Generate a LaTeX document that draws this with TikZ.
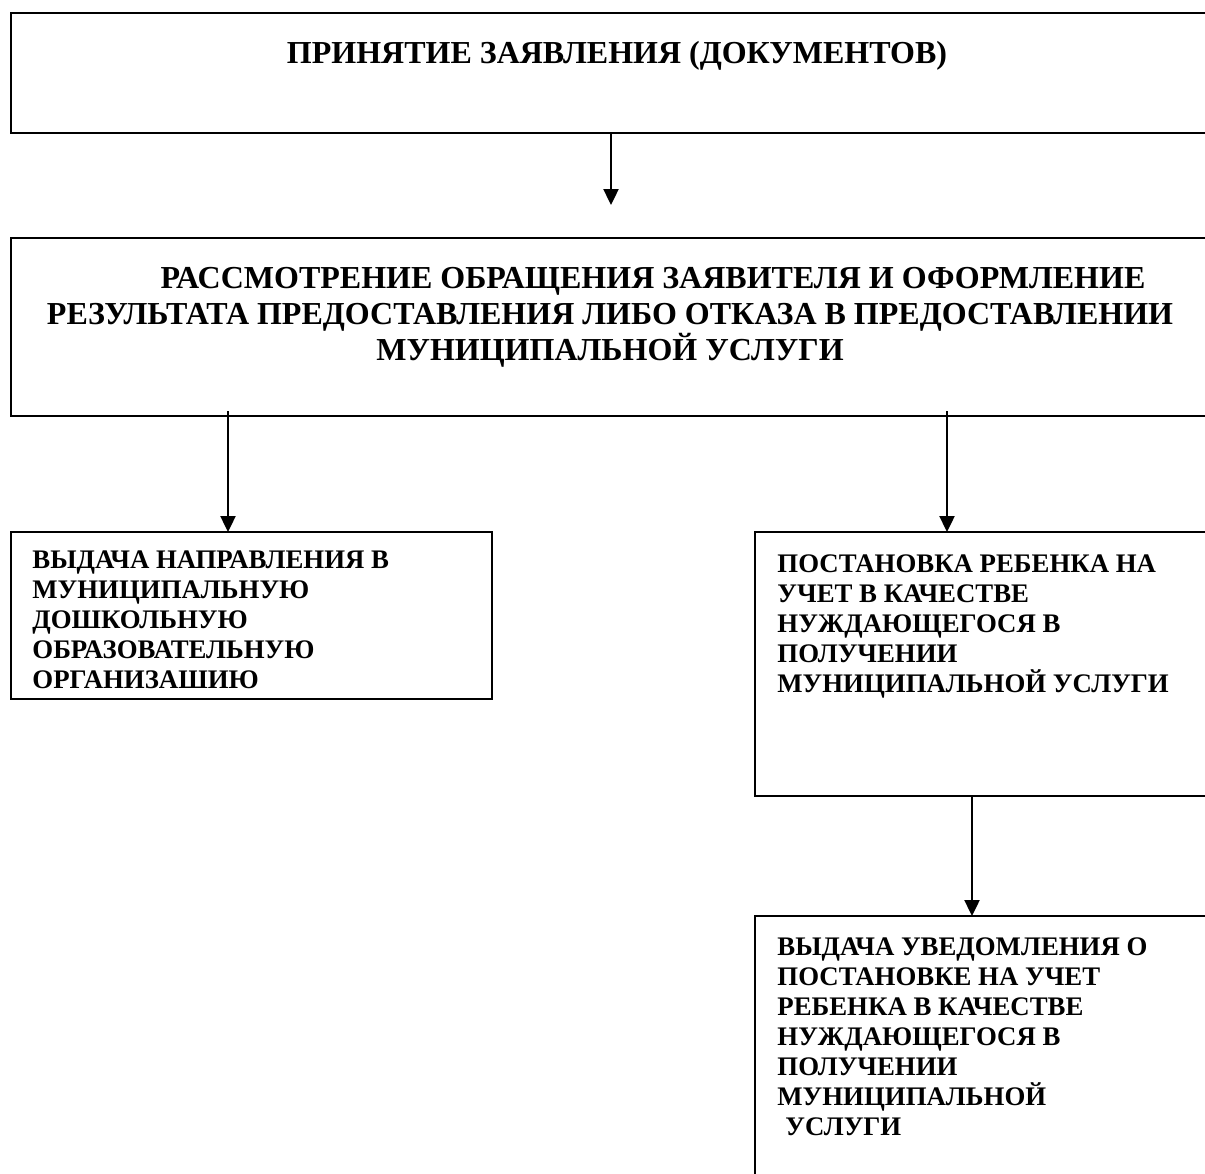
\documentclass[tikz,border=0pt]{standalone}
\usepackage{fontspec}
\setmainfont{Liberation Serif}
\usetikzlibrary{arrows.meta}
\tikzset{
  stage/.style={draw,line width=1pt,inner sep=0pt,outer sep=0pt,anchor=north west},
  headtext/.style={inner sep=0pt,font=\fontsize{16}{18}\selectfont\bfseries},
  steptext/.style={inner sep=0pt,anchor=north west,align=left,font=\fontsize{13.4}{15}\selectfont\bfseries},
  flow/.style={line width=1.2pt,-{Triangle[width=7.5pt,length=8pt]}}
}
\begin{document}
\begin{tikzpicture}[x=0.5pt,y=-0.5pt]
  \clip (0,0) rectangle (1205,1173);
  % boxes, the right ones run off the page
  \node[stage,minimum width=614.5pt,minimum height=60pt] (take) at (11,13) {};
  \node[stage,minimum width=614.5pt,minimum height=89pt] (review) at (11,238) {};
  \node[stage,minimum width=240.5pt,minimum height=83.5pt] (refer) at (11,532) {};
  \node[stage,minimum width=242.5pt,minimum height=132pt] (enrol) at (755,532) {};
  \node[stage,minimum width=242.5pt,minimum height=140pt] (notify) at (755,916) {};

  % texts
  \node[headtext,anchor=base] (takeT) at (617,63) {ПРИНЯТИЕ ЗАЯВЛЕНИЯ (ДОКУМЕНТОВ)};
  \node[headtext,anchor=north,align=center] (reviewT) at (610,267)
    {\hspace*{43pt}РАССМОТРЕНИЕ ОБРАЩЕНИЯ ЗАЯВИТЕЛЯ И ОФОРМЛЕНИЕ\\
     РЕЗУЛЬТАТА ПРЕДОСТАВЛЕНИЯ ЛИБО ОТКАЗА В ПРЕДОСТАВЛЕНИИ\\
     МУНИЦИПАЛЬНОЙ УСЛУГИ};
  \node[steptext] (referT) at (32,550)
    {ВЫДАЧА НАПРАВЛЕНИЯ В\\ МУНИЦИПАЛЬНУЮ\\ ДОШКОЛЬНУЮ\\ ОБРАЗОВАТЕЛЬНУЮ\\ ОРГАНИЗАШИЮ};
  \node[steptext] (enrolT) at (777,554)
    {ПОСТАНОВКА РЕБЕНКА НА\\ УЧЕТ В КАЧЕСТВЕ\\ НУЖДАЮЩЕГОСЯ В\\ ПОЛУЧЕНИИ\\ МУНИЦИПАЛЬНОЙ УСЛУГИ};
  \node[steptext] (notifyT) at (777,937)
    {ВЫДАЧА УВЕДОМЛЕНИЯ О\\ ПОСТАНОВКЕ НА УЧЕТ\\ РЕБЕНКА В КАЧЕСТВЕ\\ НУЖДАЮЩЕГОСЯ В\\ ПОЛУЧЕНИИ\\ МУНИЦИПАЛЬНОЙ\\ \hspace*{4pt}УСЛУГИ};

  % arrows
  \draw[flow,shorten >=16.5pt] (take.south -| 611,0) -- (review.north -| 611,0);
  \draw[flow,shorten <=-2.5pt] (review.south -| 228,0) -- (refer.north -| 228,0);
  \draw[flow,shorten <=-2.5pt] (review.south -| 947,0) -- (enrol.north -| 947,0);
  \draw[flow] (enrol.south -| 972,0) -- (notify.north -| 972,0);
\end{tikzpicture}
\end{document}
